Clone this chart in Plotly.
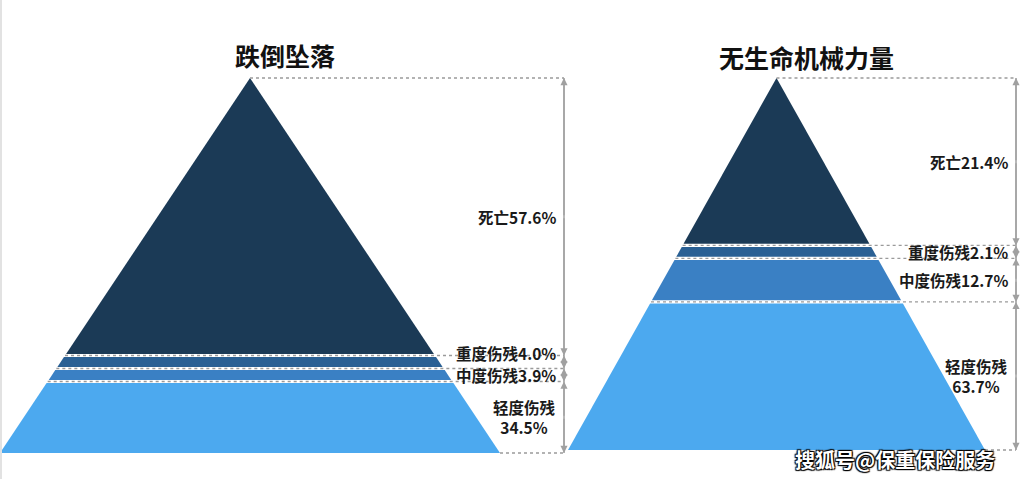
import math
import plotly.graph_objects as go

# ---- data ----
categories = ["死亡", "重度伤残", "中度伤残", "轻度伤残"]
fall_values = [57.6, 4.0, 3.9, 34.5]          # 跌倒坠落
machine_values = [21.4, 2.1, 12.7, 63.7]      # 无生命机械力量
titles = ["跌倒坠落", "无生命机械力量"]
watermark = "搜狐号@保重保险服务"

# ---- styles / layout geometry (pixel space) ----
colors = ["#1b3a56", "#2a6094", "#3a80c4", "#4ca9ef"]
W, H = 1021, 479
FONT = "Noto Sans CJK SC"
pyramids = [
    dict(title=titles[0], values=fall_values, cx=250, half=250, top=78, bottom=453,
         mx=564, title_x=285, title_y=55),
    dict(title=titles[1], values=machine_values, cx=776.5, half=208.5, top=78, bottom=450,
         mx=1016, title_x=806, title_y=57),
]
GAP = 1.6
MIN_BAND = 13      # minimum visual band height (px)
LABEL_SEP = 22     # minimum vertical distance between single-line labels

fig = go.Figure()
shapes = []
annotations = []

for p in pyramids:
    vals = p["values"]
    total = sum(vals)
    top, bottom, cx, half, mx = p["top"], p["bottom"], p["cx"], p["half"], p["mx"]
    Hh = bottom - top

    def w(y):
        return half * (y - top) / Hh

    # boundaries by area share
    cum = 0
    ys = [top]
    for v in vals:
        cum += v
        ys.append(top + math.sqrt(min(cum / total, 1.0)) * Hh)
    ys[-1] = bottom
    n = len(vals)
    # enforce a minimum visible thickness, pushing boundaries upward
    for j in range(n - 1, 0, -1):
        if ys[j + 1] - ys[j] < MIN_BAND:
            ys[j] = ys[j + 1] - MIN_BAND

    for i in range(n):
        ya, yb = ys[i], ys[i + 1]
        ya2 = ya + (GAP if i > 0 else 0)
        yb2 = yb - (GAP if i < n - 1 else 0)
        xs = [cx - w(ya2), cx + w(ya2), cx + w(yb2), cx - w(yb2), cx - w(ya2)]
        yy = [ya2, ya2, yb2, yb2, ya2]
        fig.add_trace(go.Scatter(x=xs, y=yy, fill="toself", fillcolor=colors[i],
                                 line=dict(width=0), mode="lines", hoverinfo="skip",
                                 showlegend=False, name=categories[i]))

    # dotted guide lines
    for j, y in enumerate(ys):
        if j == 0:
            x0 = cx
        elif j == n:
            x0 = cx + half
        else:
            x0 = cx - w(y)
        shapes.append(dict(type="line", x0=x0, x1=mx, y0=y, y1=y, xref="x", yref="y",
                           line=dict(color="#9a9a9a", width=1.3, dash="dot")))

    # measure line
    shapes.append(dict(type="line", x0=mx, x1=mx, y0=top, y1=bottom, xref="x", yref="y",
                       line=dict(color="#a0a0a0", width=1.5)))

    # label positions with collision avoidance (from bottom upward)
    mids = [(ys[i] + ys[i + 1]) / 2 for i in range(n)]
    label_y = list(mids)
    limit = label_y[-1] - 18  # top of two-line last label
    for i in range(n - 2, -1, -1):
        label_y[i] = min(label_y[i], limit - LABEL_SEP / 2 + 0)
        limit = label_y[i] - LABEL_SEP / 2

    for i in range(n):
        ya, yb = ys[i], ys[i + 1]
        mid = mids[i]
        for tip in (ya, yb):
            annotations.append(dict(x=mx, y=tip, ax=mx, ay=mid, xref="x", yref="y",
                                    axref="x", ayref="y", text="", showarrow=True,
                                    arrowhead=2, arrowsize=1.1, arrowwidth=1.3,
                                    arrowcolor="#a0a0a0"))
        if i == n - 1:
            txt = f"{categories[i]}<br>{vals[i]:.1f}%"
        else:
            txt = f"{categories[i]}{vals[i]:.1f}%"
        annotations.append(dict(x=mx - 6, y=label_y[i], xref="x", yref="y", text=txt,
                                showarrow=False, xanchor="right", yanchor="middle",
                                align="center",
                                font=dict(family=FONT, size=15.5, color="#1a1a1a",
                                          weight="bold")))

    annotations.append(dict(x=p["title_x"], y=p["title_y"], xref="x", yref="y",
                            text=p["title"], showarrow=False, xanchor="center",
                            yanchor="middle",
                            font=dict(family=FONT, size=25, color="#111111", weight="bold")))

annotations.append(dict(x=895, y=459, xref="x", yref="y", text=watermark, showarrow=False,
                        xanchor="center", yanchor="middle",
                        font=dict(family=FONT, size=20, color="#ffffff", weight="bold",
                                  shadow="1px 1px 1px #000, -1px -1px 1px #000, 1px -1px 1px #000, -1px 1px 1px #000")))

shapes.append(dict(type="line", x0=1, x1=1, y0=0, y1=H, xref="x", yref="y",
                   line=dict(color="#e2e2e2", width=2)))

fig.update_layout(
    width=W, height=H,
    margin=dict(l=0, r=0, t=0, b=0),
    paper_bgcolor="white", plot_bgcolor="white",
    xaxis=dict(range=[0, W], visible=False, fixedrange=True),
    yaxis=dict(range=[H, 0], visible=False, fixedrange=True),
    shapes=shapes, annotations=annotations,
    showlegend=False,
)

fig.write_html("out.html")
